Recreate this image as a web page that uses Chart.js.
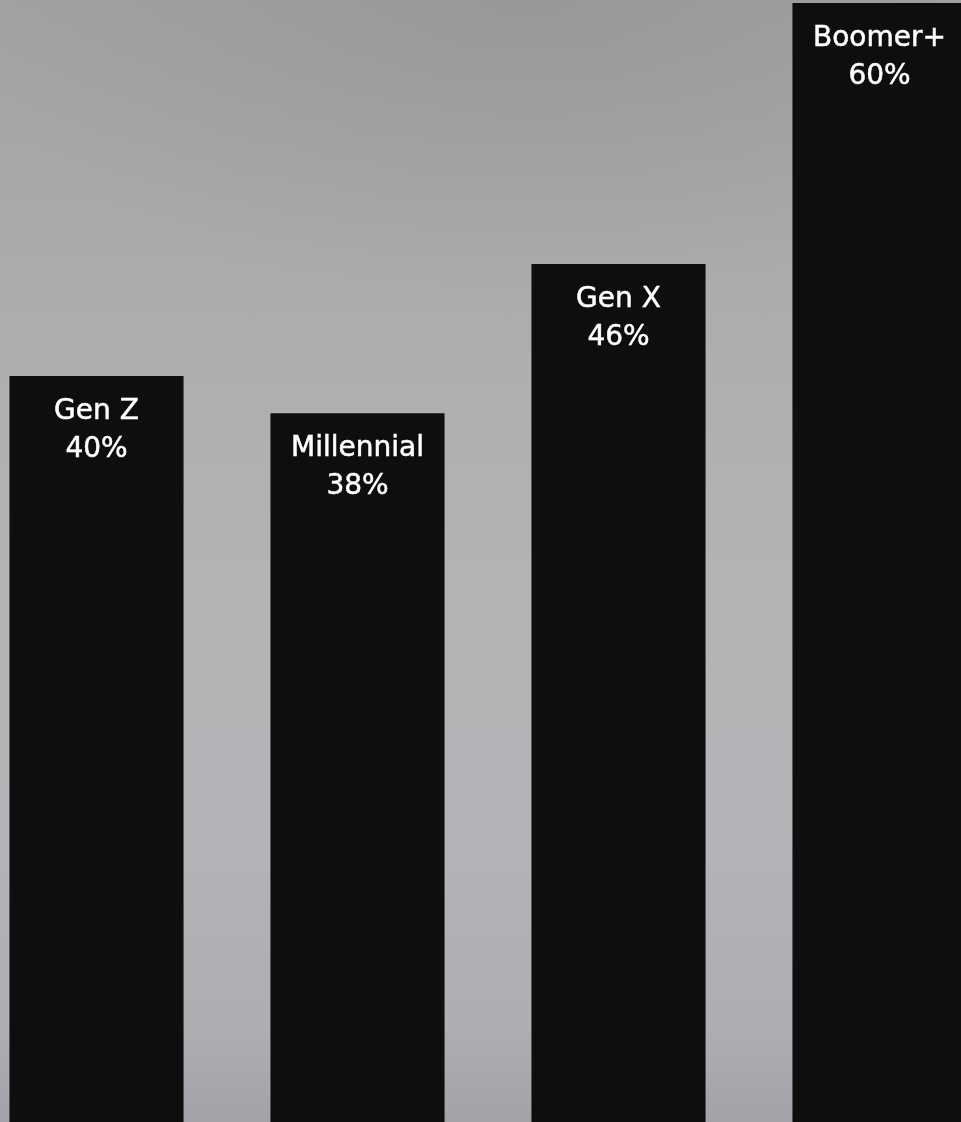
<!DOCTYPE html>
<html lang="en">
    <head>
        <meta charset="UTF-8" />
        <title>Share by Generation</title>
        <script src="https://cdn.jsdelivr.net/npm/chart.js"></script>
        <style>
            html,
            body {
                margin: 0;
                padding: 0;
                width: 961px;
                height: 1122px;
                overflow: hidden;
            }
            body {
                position: relative;
                background:
                    radial-gradient(ellipse 60% 28% at 55% 0%, rgba(140, 136, 136, 0.4), rgba(140, 136, 136, 0) 100%),
                    linear-gradient(180deg, #a3a1a1 0%, #adacad 25%, #b3b3b5 50%, #b4b4b8 75%, #adadb2 92%, #a2a3a8 100%);
            }
            #genChart {
                position: absolute;
                left: -34px;
                top: 0;
            }
        </style>
    </head>
    <body>
        <canvas id="genChart" width="1044" height="1122"></canvas>

        <script>
            const generations = ["Gen Z", "Millennial", "Gen X", "Boomer+"];
            const shares = [40, 38, 46, 60];

            // draws "name / value%" inside the top of each bar
            const barLabels = {
                id: "barLabels",
                afterDatasetsDraw(chart) {
                    const ctx = chart.ctx;
                    const meta = chart.getDatasetMeta(0);
                    ctx.save();
                    ctx.fillStyle = "#ffffff";
                    ctx.strokeStyle = "#ffffff";
                    ctx.lineWidth = 0.5;
                    ctx.font = "28px 'DejaVu Sans'";
                    ctx.textAlign = "center";
                    ctx.textBaseline = "alphabetic";
                    meta.data.forEach((bar, i) => {
                        ctx.fillText(generations[i], bar.x, bar.y + 43);
                        ctx.strokeText(generations[i], bar.x, bar.y + 43);
                        ctx.fillText(shares[i] + "%", bar.x, bar.y + 81);
                        ctx.strokeText(shares[i] + "%", bar.x, bar.y + 81);
                    });
                    ctx.restore();
                },
            };

            const ctx = document.getElementById("genChart").getContext("2d");
            new Chart(ctx, {
                type: "bar",
                data: {
                    labels: generations,
                    datasets: [
                        {
                            label: "Share",
                            data: shares,
                            backgroundColor: "#0e0e0e",
                            borderWidth: 0,
                            barPercentage: 1,
                            categoryPercentage: 0.667,
                        },
                    ],
                },
                options: {
                    responsive: false,
                    animation: false,
                    devicePixelRatio: 1,
                    layout: { padding: 0 },
                    plugins: {
                        legend: { display: false },
                        tooltip: { enabled: false },
                    },
                    scales: {
                        x: { display: false },
                        y: { display: false, min: 0, max: 60.16 },
                    },
                },
                plugins: [barLabels],
            });
        </script>
    </body>
</html>
